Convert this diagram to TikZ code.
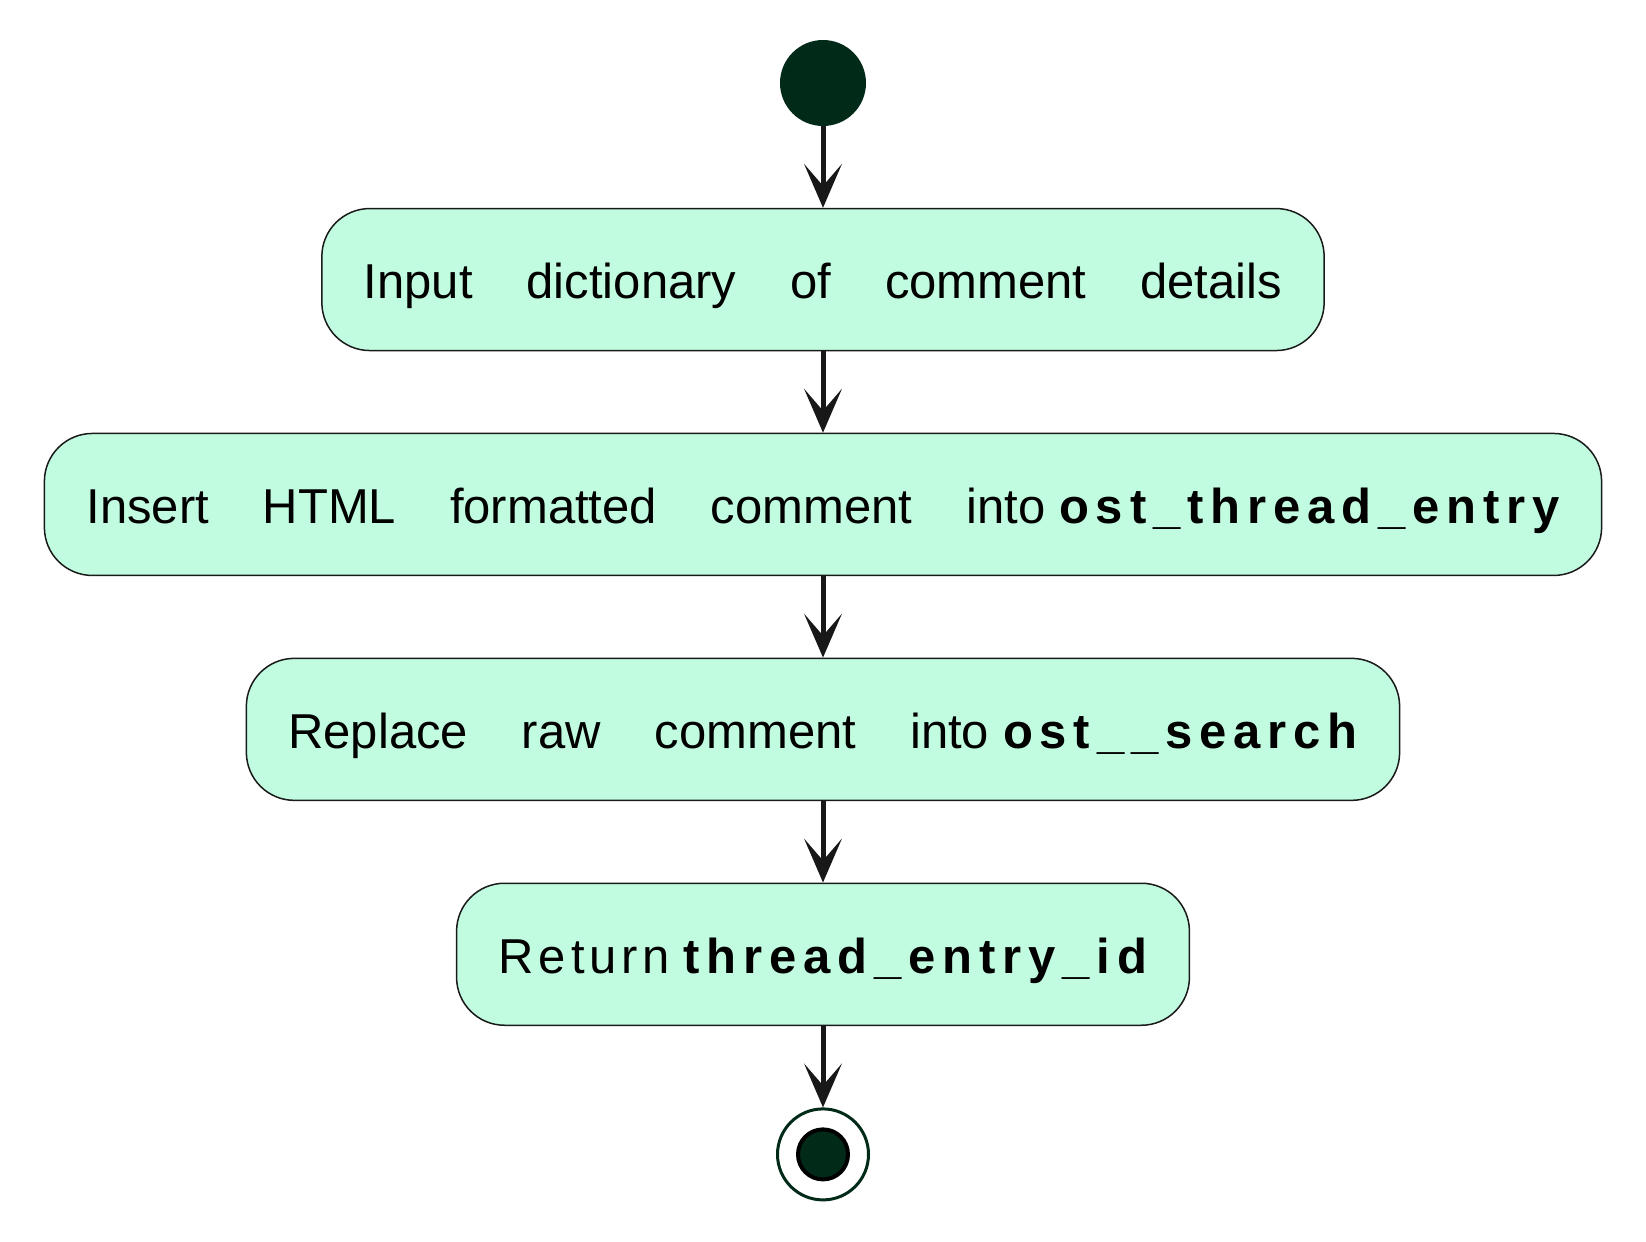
\documentclass[tikz,border=0pt]{standalone}
\usepackage{fontspec}
\setmainfont{Liberation Sans}
\newfontfamily\spacedbold[LetterSpace=14]{Liberation Sans Bold}
\newfontfamily\spacedregular[LetterSpace=10]{Liberation Sans}
\usetikzlibrary{%
		positioning%
		,arrows.meta%
	}
\definecolor{actfill}{HTML}{C2FCE0}
\definecolor{actline}{HTML}{1A1A1A}
\definecolor{dotgreen}{HTML}{022A18}
\definecolor{flowline}{HTML}{181818}
\newcommand\widegapskip{\spaceskip=1.1em\relax}
\tikzset{
	activity/.style={draw=actline, fill=actfill, line width=0.75pt, rounded corners=24pt,
		minimum height=71pt, inner xsep=21pt, inner ysep=0pt,
		text height=23.3pt, text depth=4.4pt, font=\fontsize{24.5}{29}\selectfont},
	widegaps/.style={execute at begin node=\widegapskip},
	flow/.style={draw=flowline, line width=2.5pt,
		-{Stealth[length=22pt, width=19pt, inset=11pt, line width=0pt]}},
	startdot/.style={circle, fill=dotgreen, minimum size=43pt, inner sep=0pt},
	endring/.style={circle, draw=dotgreen, line width=1.5pt, fill=white, minimum size=45.5pt, inner sep=0pt},
	enddot/.style={circle, draw=black, fill=dotgreen, line width=2pt, minimum size=25pt, inner sep=0pt},
}
\begin{document}
\begin{tikzpicture}[node distance=40.7pt]
	\useasboundingbox (0,0) rectangle (823pt,-621pt);
			% start
			\node[startdot] (start) at (411.5pt,-41.5pt) {};
			% activities
			\node[activity, widegaps, below=of start] (input) {Input dictionary of comment details};
			\node[activity, widegaps, below=of input] (insert) {Insert HTML formatted comment into\hspace{.28em}{\spacedbold ost\_thread\_entry}};
			\node[activity, widegaps, below=of insert] (replace) {Replace raw comment into\hspace{.28em}{\spacedbold ost\_\_search}};
			\node[activity, below=of replace] (return) {{\spacedregular Return} {\spacedbold thread\_entry\_id}};
			% stop
			\node[endring, below=of return] (stop) {};
			\node[enddot] (stopdot) at (stop.center) {};
			% arrows
			\draw[flow] (start) -- (input);
			\draw[flow] (input) -- (insert);
			\draw[flow] (insert) -- (replace);
			\draw[flow] (replace) -- (return);
			\draw[flow] (return) -- (stop);
\end{tikzpicture}
\end{document}
